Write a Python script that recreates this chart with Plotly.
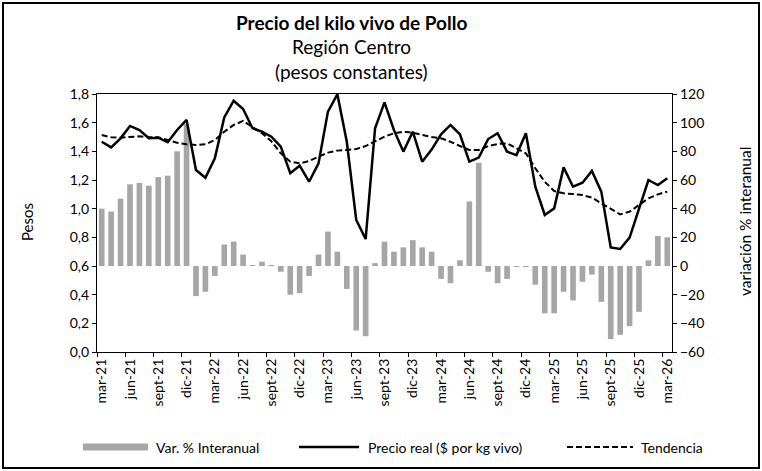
import plotly.graph_objects as go

# ---------------- data ----------------
months_es = ["ene", "feb", "mar", "abr", "may", "jun", "jul", "ago", "sept", "oct", "nov", "dic"]
categories = []
for k in range(61):
    m = (2 + k) % 12
    yr = 21 + (2 + k) // 12
    categories.append(f"{months_es[m]}-{yr}")

var_interanual = [40, 38, 47, 57, 58, 56, 62, 63, 80, 99,
                  -21, -18, -7, 15, 17, 8, 0.5, 3, 0.5, -4,
                  -20, -19, -7, 8, 24, 10, -16, -45, -49, 2,
                  17, 10, 13, 18, 13, 10, -9, -12, 4, 45,
                  72, -4, -12, -9, -0.5, -0.5, -13, -33, -33, -18,
                  -24, -11, -6, -25, -51, -48, -42, -32, 4, 21,
                  20]

precio_real = [1.467, 1.428, 1.491, 1.577, 1.549, 1.491, 1.495, 1.463, 1.549, 1.619,
               1.270, 1.216, 1.351, 1.637, 1.753, 1.695, 1.561, 1.537, 1.502, 1.433,
               1.247, 1.300, 1.188, 1.316, 1.677, 1.798, 1.467, 0.921, 0.788, 1.561,
               1.742, 1.549, 1.398, 1.537, 1.328, 1.412, 1.519, 1.584, 1.519, 1.328,
               1.356, 1.486, 1.526, 1.398, 1.374, 1.526, 1.153, 0.956, 1.002, 1.288,
               1.153, 1.181, 1.263, 1.119, 0.730, 0.719, 0.798, 1.002, 1.200, 1.165,
               1.212]

tendencia = [1.514, 1.498, 1.495, 1.498, 1.505, 1.498, 1.498, 1.479, 1.460, 1.449,
             1.444, 1.449, 1.479, 1.537, 1.584, 1.612, 1.572, 1.526, 1.470, 1.386,
             1.328, 1.316, 1.333, 1.363, 1.391, 1.405, 1.409, 1.416, 1.437, 1.467,
             1.502, 1.526, 1.537, 1.530, 1.514, 1.500, 1.491, 1.467, 1.437, 1.409,
             1.409, 1.437, 1.451, 1.456, 1.421, 1.386, 1.282, 1.188, 1.123, 1.107,
             1.102, 1.095, 1.077, 1.037, 0.998, 0.960, 0.979, 1.026, 1.072, 1.100,
             1.119]

left_ticks = [0.0, 0.2, 0.4, 0.6, 0.8, 1.0, 1.2, 1.4, 1.6, 1.8]
right_ticks = [-60, -40, -20, 0, 20, 40, 60, 80, 100, 120]

series_names = ["Var. % Interanual", "Precio real ($ por kg vivo)", "Tendencia"]

# ---------------- layout helpers (pixel -> paper) ----------------
W, H = 762, 471
PL, PR, PT, PB = 97, 672, 94, 352


def px(X):
    return (X - PL) / (PR - PL)


def py(Y):
    return (PB - Y) / (PB - PT)


xs = list(range(len(categories)))
tickpos = xs[::3]
ticklab = categories[::3]

FONT = "Lato"
TICK = 14
BAR_COLOR = "#A6A6A6"
DASH = "6px,3px"

fig = go.Figure()
fig.add_trace(go.Bar(
    x=xs, y=var_interanual, name=series_names[0],
    marker=dict(color=BAR_COLOR, line=dict(width=0)),
    yaxis="y",
))
fig.add_trace(go.Scatter(
    x=xs, y=precio_real, name=series_names[1],
    mode="lines", line=dict(color="#000000", width=2.5),
    yaxis="y2",
))
fig.add_trace(go.Scatter(
    x=xs, y=tendencia, name=series_names[2],
    mode="lines", line=dict(color="#000000", width=2, dash=DASH),
    yaxis="y2",
))

fig.update_layout(
    width=W, height=H,
    margin=dict(l=PL, r=W - PR, t=PT, b=H - PB, autoexpand=False),
    paper_bgcolor="white", plot_bgcolor="white",
    separators=", ",
    font=dict(family=FONT, size=TICK, color="#000000"),
    bargap=0.4,
    showlegend=False,
    xaxis=dict(
        range=[-0.5, len(categories) - 0.5],
        tickmode="array", tickvals=tickpos, ticktext=ticklab,
        tickangle=-90, ticks="", showgrid=False, zeroline=False,
        showline=True, linecolor="#000000", linewidth=1.3, mirror=True,
        tickfont=dict(size=TICK),
        minor=dict(tickmode="linear", tick0=-0.5, dtick=3, ticks="outside",
                   ticklen=4, tickcolor="#000000", tickwidth=1, showgrid=False),
    ),
    yaxis=dict(
        side="right", range=[-60, 120], tickmode="array", tickvals=right_ticks,
        ticks="outside", ticklen=4, tickcolor="#000000",
        showline=True, linecolor="#000000", linewidth=1.3,
        showgrid=False, zeroline=False, tickfont=dict(size=TICK),
    ),
    yaxis2=dict(
        side="left", overlaying="y", range=[0, 1.8], tickmode="array",
        tickvals=left_ticks, tickformat=".1f",
        ticks="outside", ticklen=4, tickcolor="#000000",
        showline=True, linecolor="#000000", linewidth=1.3,
        showgrid=False, zeroline=False, tickfont=dict(size=TICK),
    ),
)

annos = [
    dict(text="<b>Precio del kilo vivo de Pollo</b>", x=px(351), y=py(23), size=19),
    dict(text="Región Centro", x=px(351), y=py(47), size=19),
    dict(text="(pesos constantes)", x=px(351), y=py(71), size=19),
]
for a in annos:
    fig.add_annotation(text=a["text"], x=a["x"], y=a["y"], xref="paper", yref="paper",
                       showarrow=False, xanchor="center", yanchor="middle",
                       font=dict(size=a["size"], family=FONT, color="#000000"))

fig.add_annotation(text="Pesos", x=px(27), y=py(222), xref="paper", yref="paper",
                   showarrow=False, textangle=-90, xanchor="center", yanchor="middle",
                   font=dict(size=15, family=FONT))
fig.add_annotation(text="variación % interanual", x=px(745), y=py(222), xref="paper", yref="paper",
                   showarrow=False, textangle=-90, xanchor="center", yanchor="middle",
                   font=dict(size=15.5, family=FONT))

# ---------------- legend (drawn) ----------------
LEG_Y = 447
fig.add_shape(type="rect", xref="paper", yref="paper",
              x0=px(83), x1=px(148), y0=py(LEG_Y + 3.5), y1=py(LEG_Y - 3.5),
              line=dict(width=0), fillcolor=BAR_COLOR)
fig.add_shape(type="line", xref="paper", yref="paper",
              x0=px(299), x1=px(359), y0=py(LEG_Y), y1=py(LEG_Y),
              line=dict(color="#000000", width=2.5))
fig.add_shape(type="line", xref="paper", yref="paper",
              x0=px(567), x1=px(633), y0=py(LEG_Y), y1=py(LEG_Y),
              line=dict(color="#000000", width=2, dash=DASH))
for name, xl in zip(series_names, [154, 366, 639]):
    fig.add_annotation(text=name, x=px(xl), y=py(LEG_Y), xref="paper", yref="paper",
                       showarrow=False, xanchor="left", yanchor="middle",
                       font=dict(size=14, family=FONT))

# chart border
fig.add_shape(type="rect", xref="paper", yref="paper",
              x0=px(3), x1=px(759), y0=py(468), y1=py(3),
              line=dict(color="#000000", width=2), fillcolor="rgba(0,0,0,0)", layer="below")

fig.write_html("out.html", config={"displayModeBar": False},
               post_script="document.body.style.margin='0px';")
